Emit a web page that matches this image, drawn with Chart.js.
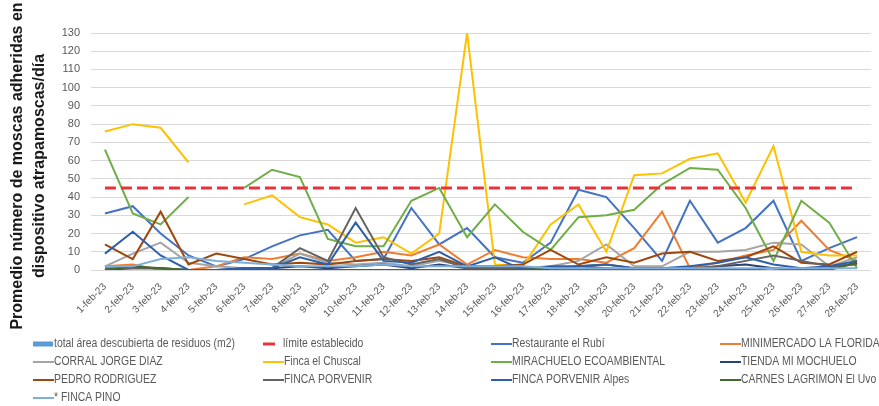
<!DOCTYPE html>
<html>
<head>
<meta charset="utf-8">
<script src="https://cdn.jsdelivr.net/npm/chart.js@4/dist/chart.umd.min.js"></script>
<style>
  html, body { margin: 0; padding: 0; background: #ffffff; }
  #wrap { width: 879px; height: 406px; position: relative; }
</style>
</head>
<body>
<div id="wrap"><canvas id="c" width="879" height="406"></canvas></div>
<script>
// ---- Data ----
const categories = ['1-feb-23','2-feb-23','3-feb-23','4-feb-23','5-feb-23','6-feb-23','7-feb-23','8-feb-23','9-feb-23','10-feb-23',
  '11-feb-23','12-feb-23','13-feb-23','14-feb-23','15-feb-23','16-feb-23','17-feb-23','18-feb-23','19-feb-23','20-feb-23',
  '21-feb-23','22-feb-23','23-feb-23','24-feb-23','25-feb-23','26-feb-23','27-feb-23','28-feb-23'];
const yTicks = [0,10,20,30,40,50,60,70,80,90,100,110,120,130];
const yTitle = ['Promedio número de moscas adheridas en', 'dispositivo atrapamoscas/día'];

const totalArea   = [null,null,null,null,null,null,null,null,null,null,null,null,null,null,null,null,null,null,null,null,null,null,null,null,null,null,null,null];
const limite      = [45,45,45,45,45,45,45,45,45,45,45,45,45,45,45,45,45,45,45,45,45,45,45,45,45,45,45,45];
const restaurante = [31,35,20,8,2,6,13,19,22,5,6,34,14,23,7,4,15,44,40,23,5,38,15,23,38,5,12,18];
const minimercado = [2,3,0,0,2,7,6,9,5,7,10,8,14,3,11,7,6,6,4,12,32,1,4,8,11,27,11,5];
const corral      = [2,9,15,4,2,1,1,9,4,3,4,2,5,2,1,1,2,5,14,2,2,10,10,11,15,14,2,7];
const chuscal     = [76,80,78,59,null,36,41,29,25,15,18,9,20,130,3,2,25,36,10,52,53,61,64,37,68,10,8,8];
const mirachuelo  = [66,31,25,40,null,45,55,51,17,13,13,38,45,18,36,21,11,29,30,33,47,56,55,34,5,38,26,1];
const tienda      = [0,1,1,0,0,1,1,2,1,2,3,1,3,1,1,1,0,2,1,0,0,0,2,3,1,0,1,4];
const pedro       = [14,6,32,3,9,6,3,4,3,5,6,5,7,2,2,3,11,3,7,4,9,10,5,7,13,4,3,10];
const porvenir    = [1,1,1,0,0,0,1,12,5,34,7,3,6,1,1,1,1,2,3,1,1,1,2,5,8,5,2,3];
const alpes       = [9,21,8,0,0,1,1,7,3,26,5,4,10,2,7,0,2,2,3,1,1,2,4,7,3,1,2,5];
const carnes      = [0,2,1,0,0,0,0,0,0,0,0,0,0,0,0,0,1,0,0,0,0,0,0,0,1,0,0,4];
const fincaPino   = [2,2,6,7,5,4,3,2,2,2,3,2,2,2,2,2,1,1,1,1,1,1,1,1,1,1,1,1];

const seriesNames = ['total área descubierta de residuos (m2)','límite establecido','Restaurante el Rubí','MINIMERCADO LA FLORIDA',
  'CORRAL JORGE DIAZ','Finca el Chuscal','MIRACHUELO ECOAMBIENTAL','TIENDA MI MOCHUELO',
  'PEDRO RODRIGUEZ','FINCA PORVENIR','FINCA PORVENIR Alpes','CARNES LAGRIMON El Uvo','* FINCA PINO'];
const seriesData = [totalArea, limite, restaurante, minimercado, corral, chuscal, mirachuelo, tienda, pedro, porvenir, alpes, carnes, fincaPino];
const seriesColors = ['#5B9BD5','#E8333A','#4472C4','#ED7D31','#A5A5A5','#FFC000','#70AD47','#264478','#9E480E','#636363','#2E5FA8','#43682B','#7CAFDD'];

const TEXT = '#595959';
const SANS = '"Liberation Sans", Arial, sans-serif';

const datasets = seriesNames.map((name, i) => {
  if (i === 0) {
    return { type: 'bar', label: name, data: seriesData[i], backgroundColor: seriesColors[i], order: 20 };
  }
  const ds = {
    type: 'line', label: name, data: seriesData[i], borderColor: seriesColors[i], backgroundColor: seriesColors[i],
    borderWidth: 2, pointRadius: 0, tension: 0, spanGaps: false, fill: false, order: 13 - i
  };
  if (i === 1) { ds.borderDash = [11, 5]; ds.borderWidth = 3; ds.order = 0; }
  return ds;
});

// Custom legend in 4 columns (condensed text like the reference's narrow font)
const legendPlugin = {
  id: 'gridLegend',
  afterDraw(chart) {
    const ctx = chart.ctx;
    const colX = [33, 263, 491, 720];
    const rowY = [344, 362, 380, 398];
    ctx.save();
    ctx.font = '12px ' + SANS;
    ctx.textBaseline = 'middle';
    ctx.textAlign = 'left';
    const squeeze = 181 / ctx.measureText(chart.data.datasets[0].label).width;
    chart.data.datasets.forEach((ds, i) => {
      const x = colX[i % 4], y = rowY[Math.floor(i / 4)];
      let tx;
      if (ds.type === 'bar') {
        ctx.fillStyle = ds.backgroundColor;
        ctx.fillRect(x, y - 2.5, 20, 5);
        tx = x + 21;
      } else if (ds.borderDash) {
        ctx.strokeStyle = ds.borderColor; ctx.lineWidth = 3;
        ctx.beginPath(); ctx.moveTo(x, y); ctx.lineTo(x + 12, y); ctx.stroke();
        tx = x + 20;
      } else {
        ctx.strokeStyle = ds.borderColor; ctx.lineWidth = 2;
        ctx.beginPath(); ctx.moveTo(x, y); ctx.lineTo(x + 21, y); ctx.stroke();
        tx = x + 21;
      }
      ctx.save();
      ctx.translate(tx, y);
      ctx.scale(squeeze, 1);
      ctx.fillStyle = TEXT;
      ctx.fillText(ds.label, 0, 0);
      ctx.restore();
    });
    ctx.restore();
  }
};

// Y-axis title drawn rotated, two centered lines
const yTitlePlugin = {
  id: 'yTitle',
  afterDraw(chart) {
    const ctx = chart.ctx;
    ctx.save();
    ctx.font = 'bold 16px ' + SANS;
    ctx.fillStyle = '#1a1a1a';
    ctx.textAlign = 'center';
    ctx.textBaseline = 'middle';
    const xs = [18, 40];
    yTitle.forEach((t, k) => {
      ctx.save();
      ctx.translate(xs[k], 166);
      ctx.rotate(-Math.PI / 2);
      ctx.fillText(t, 0, 0);
      ctx.restore();
    });
    ctx.restore();
  }
};

new Chart(document.getElementById('c'), {
  type: 'line',
  data: { labels: categories, datasets },
  options: {
    responsive: false,
    animation: false,
    devicePixelRatio: 1,
    layout: { padding: { top: 33, right: 8, bottom: 88, left: 0 } },
    plugins: { legend: { display: false }, tooltip: { enabled: false }, title: { display: false } },
    scales: {
      x: {
        offset: true,
        grid: { display: false },
        border: { display: false },
        ticks: { color: TEXT, font: { family: SANS, size: 10 }, maxRotation: 45, minRotation: 45, autoSkip: false, padding: 3 },
        afterFit(scale) { scale.height = 48; }
      },
      y: {
        min: 0, max: 130,
        afterBuildTicks(scale) { scale.ticks = yTicks.map(v => ({ value: v })); },
        grid: { color: '#D9D9D9', lineWidth: 1, drawTicks: false },
        border: { display: false },
        ticks: { color: TEXT, font: { family: SANS, size: 11 }, padding: 11 },
        afterFit(scale) { scale.width = 91; }
      }
    }
  },
  plugins: [legendPlugin, yTitlePlugin]
});
</script>
</body>
</html>
